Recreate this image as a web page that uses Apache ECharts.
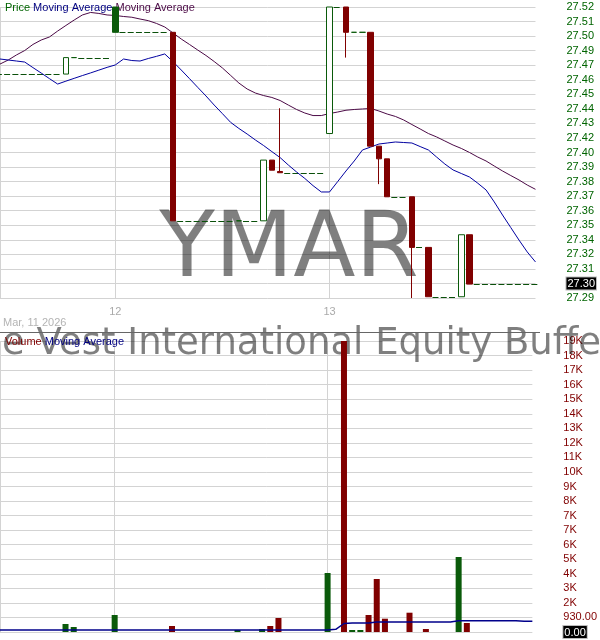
<!DOCTYPE html>
<html>
<head>
<meta charset="utf-8">
<script src="https://cdn.jsdelivr.net/npm/echarts@6/dist/echarts.min.js"></script>
<style>
html,body{margin:0;padding:0;background:#fff;}
#chart{width:600px;height:640px;}
</style>
</head>
<body>
<div id="chart"></div>
<script>
// ---- categories (15-minute slots) ----
const slotTimes = ['9:30','9:45','10:00','10:15','10:30','10:45','11:00','11:15','11:30','11:45','12:00','12:15','12:30','12:45','13:00','13:15','13:30','13:45','14:00','14:15','14:30','14:45','15:00','15:15','15:30','15:45'];
const dayLabels = ['11','12','13'];
const dayFirstSlot = [12, 0, 0];

// ---- price bars (slot index into categories) ----
const tradeSlot   = [8, 9, 14, 21, 29, 32, 33, 34, 40, 42, 43, 44, 45, 46, 47, 50, 52, 56, 57];
const tradeOpen   = [27.467,27.480,27.520,27.500,27.351,27.351,27.399,27.390,27.420,27.520,27.500,27.500,27.500,27.410,27.400,27.370,27.330,27.291,27.340];
const tradeClose  = [27.480,27.480,27.500,27.351,27.351,27.399,27.391,27.389,27.520,27.500,27.500,27.500,27.410,27.400,27.370,27.330,27.291,27.340,27.301];
const tradeLow    = [27.467,27.480,27.500,27.351,27.351,27.351,27.391,27.389,27.420,27.480,27.500,27.500,27.410,27.380,27.370,27.290,27.291,27.291,27.301];
const tradeHigh   = [27.480,27.480,27.520,27.500,27.351,27.399,27.399,27.440,27.520,27.520,27.500,27.500,27.500,27.410,27.400,27.370,27.330,27.340,27.340];
const tradeVolume = [511, 320, 1086, 383, 128, 192, 383, 895, 3770, 18600, 128, 128, 1086, 3387, 850, 1233, 192, 4793, 575];
const priorClose = 27.467;

// ---- moving averages (one value per slot) ----
const maShort = [27.4789,27.4781,27.4773,27.4765,27.4721,27.4678,27.4634,27.4591,27.4614,27.4636,
 27.4658,27.4679,27.4701,27.4723,27.4742,27.4789,27.4777,27.4773,27.4793,27.4810,
 27.4829,27.4768,27.4702,27.4634,27.4565,27.4497,27.4425,27.4357,27.4288,27.4240,
 27.4196,27.4149,27.4105,27.4057,27.4010,27.3951,27.3896,27.3845,27.3788,27.3738,
 27.3738,27.3821,27.3904,27.3983,27.4070,27.4093,27.4117,27.4125,27.4133,27.4129,
 27.4125,27.4097,27.4070,27.4014,27.3959,27.3912,27.3884,27.3856,27.3807,27.3754,
 27.3659,27.3556,27.3457,27.3358,27.3264,27.3185];
const maLong = [27.4749,27.4781,27.4821,27.4856,27.4904,27.4939,27.4963,27.5010,27.5054,27.5097,
 27.5137,27.5157,27.5149,27.5137,27.5133,27.5125,27.5119,27.5105,27.5092,27.5070,
 27.5042,27.4995,27.4947,27.4904,27.4860,27.4817,27.4769,27.4718,27.4659,27.4599,
 27.4552,27.4520,27.4500,27.4485,27.4461,27.4425,27.4390,27.4362,27.4342,27.4342,
 27.4358,27.4370,27.4384,27.4390,27.4394,27.4398,27.4378,27.4354,27.4335,27.4307,
 27.4271,27.4236,27.4200,27.4173,27.4141,27.4109,27.4082,27.4050,27.4014,27.3983,
 27.3943,27.3904,27.3868,27.3833,27.3793,27.3759];
const volumeMA = [125,125,125,125,125,125,125,125,125,125,
 125,125,125,125,125,125,125,125,125,125,
 125,125,125,125,125,125,125,125,125,125,
 125,125,125,125,125,125,125,125,125,125,
 125,173,543,575,575,575,639,639,639,639,
 639,639,639,639,639,639,722,722,722,722,
 722,722,722,722,684,684];

// ---- axis tick labels ----
const priceTickLabels = ['27.29','27.30','27.31','27.32','27.34','27.35','27.36','27.37','27.38','27.39','27.40','27.42','27.43','27.44','27.45','27.46','27.47','27.49','27.50','27.51','27.52'];
const priceMin = 27.29, priceMax = 27.52, priceStep = 0.0115;
const lastPriceLabel = '27.30';
const volumeTickLabels = ['0.00','930.00','2K','3K','4K','5K','6K','7K','7K','8K','9K','10K','11K','12K','13K','14K','15K','16K','17K','18K','19K'];
const volMin = 0, volMax = 18600, volStep = 930;
const lastVolumeLabel = '0.00';

// ---- texts ----
const symbolText = 'YMAR';
const nameText = 'FT Cboe Vest International Equity Buffer ETF - March';
const dateText = 'Mar, 11 2026';

// ---- colours ----
const GREEN = '#0a5a0a', RED = '#800000', DASH = '#0a500a';
const BLUE = '#0000a0', PURPLE = '#4b0a46';

// build categories
const categories = [];
const dayStart = {};
dayLabels.forEach((d, di) => {
  for (let s = dayFirstSlot[di]; s < slotTimes.length; s++) {
    if (s === 0) dayStart[categories.length] = d;
    categories.push('Mar ' + d + ' ' + slotTimes[s]);
  }
});
const N = categories.length;

// candles + volume per slot
const candleData = new Array(N).fill('-');
const volData = new Array(N).fill('-');
const flatData = [];
let prev = priorClose;
const tradeAt = {};
tradeSlot.forEach((s, i) => tradeAt[s] = i);
for (let s = 0; s < N; s++) {
  if (tradeAt[s] !== undefined) {
    const i = tradeAt[s];
    const o = tradeOpen[i], c = tradeClose[i];
    const col = c >= prev ? GREEN : RED;
    const hollow = c > o;
    const fill = hollow ? '#ffffff' : col;
    candleData[s] = {
      value: [o, c, tradeLow[i], tradeHigh[i]],
      itemStyle: { color: fill, color0: fill, borderColor: col, borderColor0: col, borderColorDoji: col }
    };
    volData[s] = { value: tradeVolume[i], itemStyle: { color: col } };
    prev = c;
  } else {
    flatData.push([s, prev]);
  }
}

function priceLabel(v) {
  const idx = Math.round((v - priceMin) / priceStep);
  const t = priceTickLabels[idx] || '';
  return t === lastPriceLabel ? '{hl|' + t + '}' : t;
}
function volLabel(v) {
  const idx = Math.round((v - volMin) / volStep);
  const t = volumeTickLabels[idx] || '';
  return t === lastVolumeLabel ? '{hl|' + t + '}' : t;
}
const FONT = 'Liberation Sans';
const hlRich = { hl: { backgroundColor: '#000', color: '#fff', padding: [1, 1, 0, 1], fontFamily: FONT, fontSize: 11, borderColor: '#bbb', borderWidth: 1 } };

const chart = echarts.init(document.getElementById('chart'), null, { renderer: 'canvas' });
const splitX = (idx) => idx === 0 || dayStart[idx] !== undefined;

const option = {
  animation: false,
  backgroundColor: '#fff',
  grid: [
    { left: 0, right: 60, top: 7, height: 291 },
    { left: 0, right: 60, top: 341, height: 291 }
  ],
  xAxis: [
    {
      type: 'category', gridIndex: 0, data: categories, boundaryGap: false,
      axisLine: { show: false }, axisTick: { show: false },
      axisLabel: {
        interval: (idx) => dayStart[idx] !== undefined,
        formatter: (val, idx) => dayStart[idx] || '',
        color: '#aaaaaa', fontFamily: FONT, fontSize: 11, margin: 8
      },
      splitLine: { show: true, interval: splitX, lineStyle: { color: '#d3d3d3', width: 1 } }
    },
    {
      type: 'category', gridIndex: 1, data: categories, boundaryGap: false,
      axisLine: { show: false }, axisTick: { show: false }, axisLabel: { show: false },
      splitLine: { show: true, interval: splitX, lineStyle: { color: '#d3d3d3', width: 1 } }
    }
  ],
  yAxis: [
    {
      type: 'value', gridIndex: 0, position: 'right', min: priceMin, max: priceMax, interval: priceStep,
      axisLine: { show: false }, axisTick: { show: false },
      axisLabel: { formatter: priceLabel, color: '#006400', fontFamily: FONT, fontSize: 11, margin: 31, rich: hlRich },
      splitLine: { lineStyle: { color: '#d3d3d3', width: 1 } }
    },
    {
      type: 'value', gridIndex: 1, position: 'right', min: volMin, max: volMax, interval: volStep,
      axisLine: { show: false }, axisTick: { show: false },
      axisLabel: { formatter: volLabel, color: '#800000', fontFamily: FONT, fontSize: 11, margin: 31, rich: hlRich },
      splitLine: { lineStyle: { color: '#d3d3d3', width: 1 } }
    }
  ],
  series: [
    {
      type: 'custom', xAxisIndex: 0, yAxisIndex: 0, data: flatData, z: 3, clip: false,
      renderItem: (params, api) => {
        const p = api.coord([api.value(0), api.value(1)]);
        const w = api.size([1, 0])[0];
        const y = Math.round(p[1]) + 0.5;
        return { type: 'line', shape: { x1: p[0] - w / 2, y1: y, x2: p[0] + w / 2, y2: y },
                 style: { stroke: DASH, lineWidth: 1, lineDash: [6, 3] } };
      }
    },
    {
      type: 'line', xAxisIndex: 0, yAxisIndex: 0, data: maLong, symbol: 'none', z: 3,
      lineStyle: { color: PURPLE, width: 1 }
    },
    {
      type: 'line', xAxisIndex: 0, yAxisIndex: 0, data: maShort, symbol: 'none', z: 3,
      lineStyle: { color: BLUE, width: 1 }
    },
    {
      type: 'candlestick', xAxisIndex: 0, yAxisIndex: 0, data: candleData, barWidth: 6, z: 4, clip: false,
      itemStyle: { borderWidth: 1 }
    },
    {
      type: 'bar', xAxisIndex: 1, yAxisIndex: 1, data: volData, barWidth: 6, z: 3
    },
    {
      type: 'line', xAxisIndex: 1, yAxisIndex: 1, data: volumeMA, symbol: 'none', z: 4,
      lineStyle: { color: '#00008b', width: 1.5 }
    }
  ],
  graphic: [
    { type: 'text', z: 1, left: -125, top: 326, silent: true,
      style: { text: nameText, font: '37px "DejaVu Sans"', fill: 'rgba(0,0,0,0.5)' } },
    { type: 'text', z: 1, x: 289, y: 252, silent: true,
      style: { text: symbolText, font: '91px "DejaVu Sans"', fill: 'rgba(0,0,0,0.5)', textAlign: 'center', textVerticalAlign: 'middle' } },
    { type: 'line', z: 5, silent: true, shape: { x1: 0, y1: 332.5, x2: 540, y2: 332.5 }, style: { stroke: '#666', lineWidth: 1 } },
    { type: 'text', z: 1, x: 3, y: 317, silent: true,
      style: { text: dateText, font: '11px "Liberation Sans"', fill: '#b4b4b4' } },
    { type: 'text', z: 1, x: 5, y: 2, silent: true,
      style: { text: '{g|Price} {b|Moving Average} {p|Moving Average}', font: '11px "Liberation Sans"',
        rich: { g: { fill: '#006400', font: '11px "Liberation Sans"' }, b: { fill: '#000080', font: '11px "Liberation Sans"' }, p: { fill: PURPLE, font: '11px "Liberation Sans"' } } } },
    { type: 'text', z: 6, x: 5, y: 336, silent: true,
      style: { text: '{r|Volume} {b|Moving Average}', font: '11px "Liberation Sans"',
        rich: { r: { fill: '#800000', font: '11px "Liberation Sans"' }, b: { fill: '#000080', font: '11px "Liberation Sans"' } } } }
  ]
};
chart.setOption(option);
</script>
</body>
</html>
